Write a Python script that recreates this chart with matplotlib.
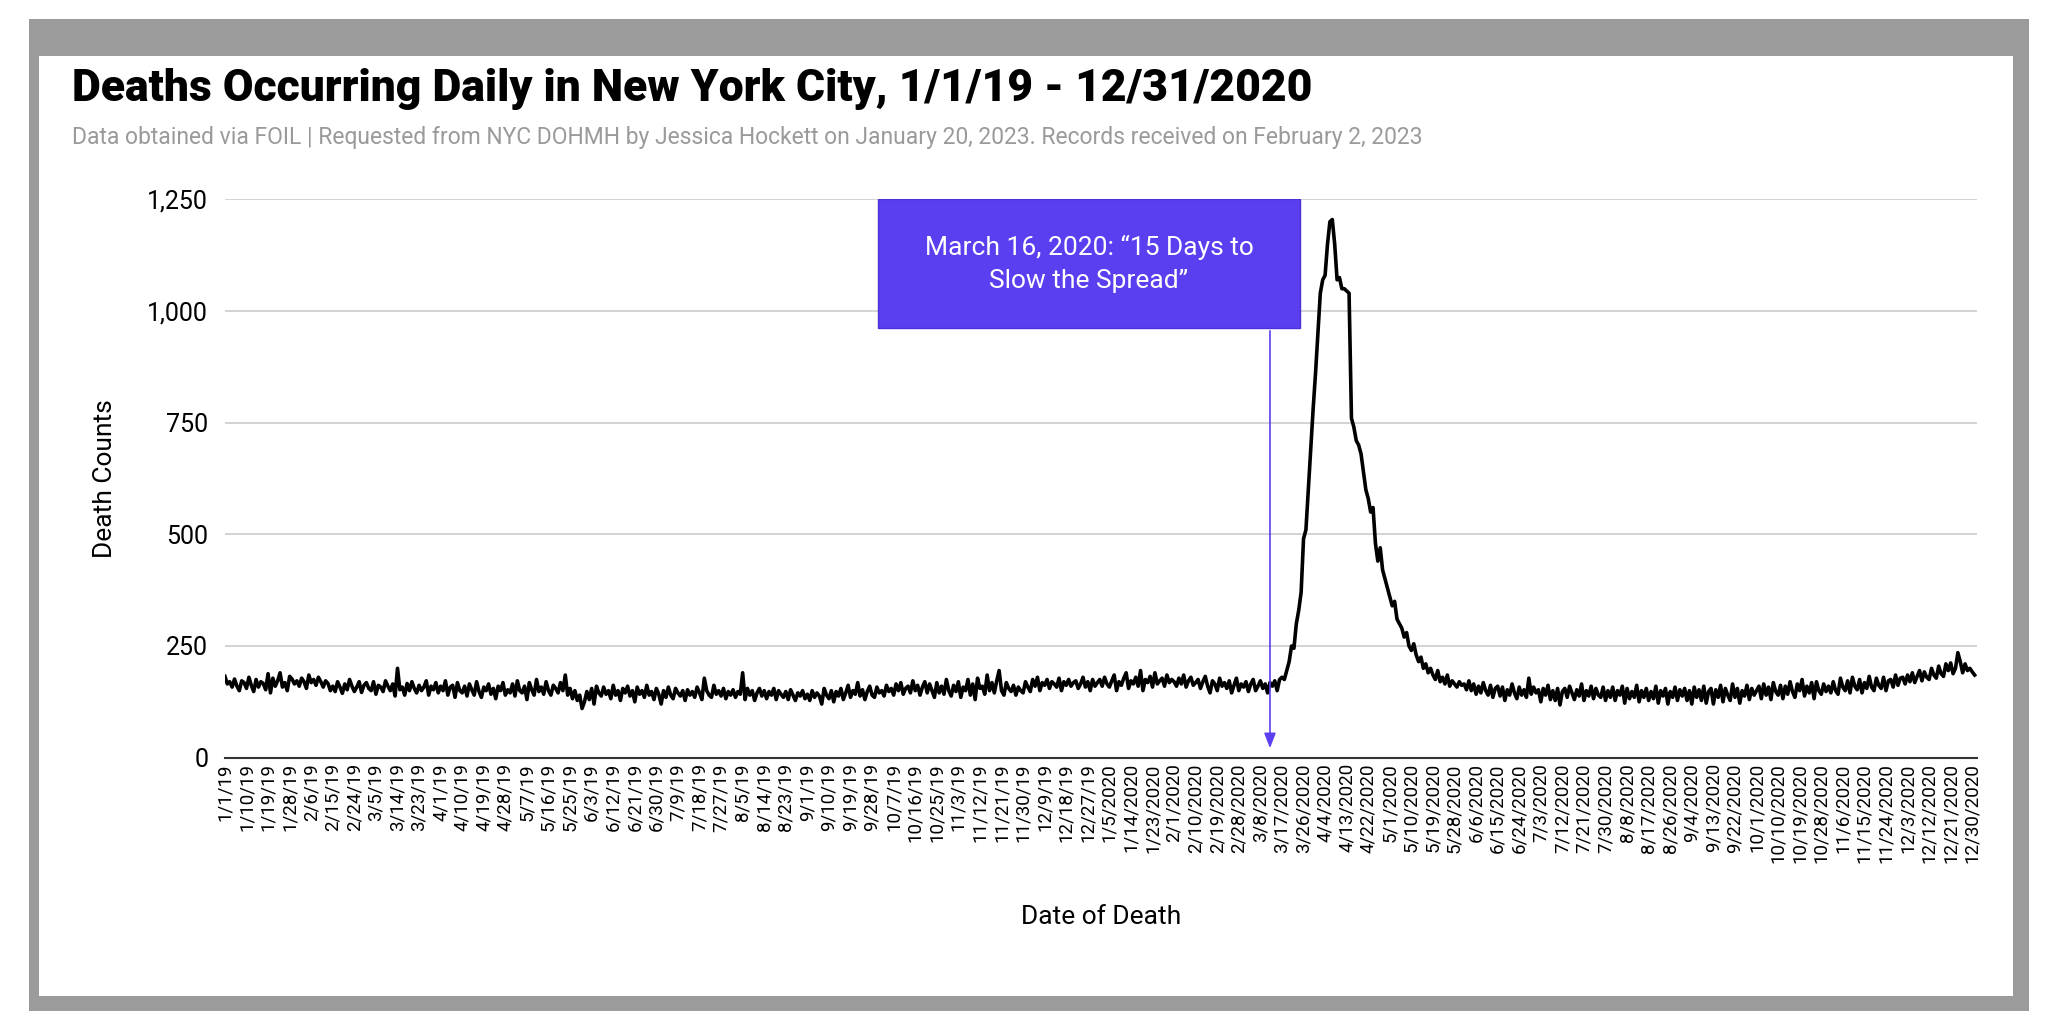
import matplotlib
matplotlib.use("Agg")
import matplotlib.pyplot as plt
from matplotlib.patches import Rectangle
import pandas as pd
import numpy as np

m2019 = [
 [182,165,170,158,176,160,150,172,168,155,180,162,148,175,158,170,166,152,188,145,178,160,172,190,158,168,150,182,176,165,172],
 [160,178,170,155,185,168,175,162,180,170,158,172,166,150,160,148,170,158,144,165,152,175,160,148,158,170,146,162],
 [168,155,150,170,142,162,158,148,172,160,150,165,138,200,152,158,140,166,150,170,155,145,162,150,158,172,140,160,152,168,145],
 [160,150,172,140,158,162,135,168,150,145,160,138,165,152,140,170,148,135,158,150,165,142,155,132,160,150,168,140,152,145],
 [165,138,172,150,145,160,130,168,152,140,175,148,158,142,170,150,140,162,155,145,168,150,185,140,155,132,150,128,140,110,125],
 [148,130,155,120,160,145,138,158,142,150,132,162,140,150,128,155,145,160,138,150,125,158,142,150,135,162,140,148,130,155],
 [142,120,150,135,158,140,132,155,145,138,150,128,152,140,148,135,158,145,130,178,150,140,135,162,142,150,138,155,132,148,140],
 [152,135,148,142,190,130,155,140,150,128,145,155,138,150,132,148,140,155,130,150,142,135,148,130,152,140,128,145,138,150,132],
 [142,128,150,135,145,138,120,155,140,132,150,125,148,138,155,130,145,162,135,150,142,168,138,152,130,148,160,140,135,158],
 [145,150,138,162,148,155,140,165,150,168,142,155,160,145,172,150,162,140,158,170,145,165,150,135,168,145,160,142,175,150,138],
 [162,148,170,135,158,150,175,140,165,130,178,155,160,142,185,150,168,145,172,195,150,140,168,155,148,162,140,158,150,145],
 [170,158,148,175,160,180,150,168,162,175,155,170,165,158,178,150,170,162,175,160,168,172,155,165,180,158,170,150,175,160,168],
]
m2020 = [
 [175,160,180,165,158,172,185,150,170,162,178,190,155,172,165,180,160,195,150,175,168,182,158,190,165,172,178,160,185,168,175],
 [170,160,178,165,185,158,172,180,162,168,175,155,170,182,160,145,172,165,150,178,160,168,155,172,145,162,178,150,165],
 [158,170,148,165,175,150,160,172,155,165,145,168,160,172,150,175,180,175,195,215,250,245,300,330,370,490,510,600,690,780,860],
 [950,1040,1070,1080,1150,1200,1205,1150,1070,1075,1050,1050,1045,1040,760,740,710,700,680,640,600,580,550,560,480,440,470,420,400,380],
 [360,340,350,310,300,290,270,280,250,240,255,230,215,225,200,210,190,200,185,175,195,170,180,165,185,160,172,165,158,170,162],
 [165,152,172,150,165,142,160,145,168,150,140,162,135,155,160,138,158,128,152,140,165,145,132,158,140,152,135,178,142,158],
 [145,152,125,155,140,162,130,150,128,155,118,148,155,135,160,145,130,152,138,165,128,150,138,160,132,155,140,135,158,128,150],
 [135,158,128,150,140,160,122,155,132,148,135,162,125,150,135,155,128,148,132,160,122,150,138,155,120,148,135,158,128,152,138],
 [155,128,150,120,158,135,152,128,160,122,148,155,120,152,135,162,125,155,140,128,165,135,155,122,150,138,162,130,155,140],
 [150,160,132,165,140,158,130,168,148,140,162,132,160,142,170,148,135,165,150,175,138,160,145,168,132,170,150,142,165,148,160],
 [145,170,150,142,178,158,150,172,145,180,160,152,175,145,168,155,182,158,150,178,162,155,180,150,172,175,158,185,162,178],
 [180,165,185,170,190,168,182,195,172,192,180,175,200,185,178,205,188,182,210,195,212,188,200,235,215,190,210,195,200,192,185],
]
deaths = [v for m in m2019 + m2020 for v in m]
dates = pd.date_range("2019-01-01", "2020-12-31", freq="D")
assert len(deaths) == len(dates), len(deaths)

def lab(d):
    return f"{d.month}/{d.day}/{d.strftime('%y') if d.year == 2019 else d.year}"
tick_idx = list(range(0, len(dates), 9))
tick_labels = [lab(dates[i]) for i in tick_idx]

annot_text = "March 16, 2020: \u201c15 Days to\nSlow the Spread\u201d"
annot_day = 436

plt.rcParams['font.family'] = ['Roboto', 'DejaVu Sans']
fig = plt.figure(figsize=(20.56, 10.28), dpi=100)
fig.patches.append(Rectangle((0.014, 0.017), 0.973, 0.965, transform=fig.transFigure,
                             facecolor="#9b9b9b", edgecolor="none", zorder=-10))
fig.patches.append(Rectangle((0.019, 0.031), 0.960, 0.915, transform=fig.transFigure,
                             facecolor="white", edgecolor="none", zorder=-9))

ax = fig.add_axes([0.1094, 0.263, 0.8522, 0.543])
ax.set_facecolor("none")
x = np.arange(len(deaths))
ax.plot(x, deaths, color="black", lw=2.6, zorder=3)
ax.set_xlim(0, len(deaths))
ax.set_ylim(0, 1250)
ax.set_yticks([0, 250, 500, 750, 1000, 1250])
ax.set_yticklabels(["0", "250", "500", "750", "1,000", "1,250"], fontsize=18)
ax.grid(axis="y", color="#cccccc", lw=1.2)
ax.set_axisbelow(True)
for s in ["top", "right", "left"]:
    ax.spines[s].set_visible(False)
ax.spines["bottom"].set_color("#333333")
ax.spines["bottom"].set_linewidth(1.5)
ax.tick_params(axis="y", length=0, pad=12)
ax.set_xticks(tick_idx)
ax.set_xticklabels(tick_labels, rotation=90, fontsize=13.5)
ax.tick_params(axis="x", length=0, pad=4)
ax.set_ylabel("Death Counts", fontsize=19, labelpad=22)
ax.set_xlabel("Date of Death", fontsize=19, labelpad=30)

ax.add_patch(Rectangle((272.5, 962), 176, 288, facecolor="#5a3ff0", edgecolor="#4a30d8",
                       lw=1, zorder=5))
ax.text(360.5, 1106, annot_text, color="white", fontsize=19, ha="center", va="center",
        linespacing=1.45, zorder=6)
ax.annotate("", xy=(annot_day, 15), xytext=(annot_day, 962),
            arrowprops=dict(arrowstyle="-|>,head_width=0.35,head_length=0.9",
                            color="#5a3ff0", lw=1.2), zorder=6)

fig.text(0.035, 0.913, "Deaths Occurring Daily in New York City, 1/1/19 - 12/31/2020",
         fontsize=32, fontweight="black", va="center", ha="left")
fig.text(0.035, 0.866, "Data obtained via FOIL | Requested from NYC DOHMH by Jessica Hockett on January 20, 2023. Records received on February 2, 2023",
         fontsize=16.5, color="#9a9a9a", va="center", ha="left")

fig.savefig("out.png", dpi=100)
